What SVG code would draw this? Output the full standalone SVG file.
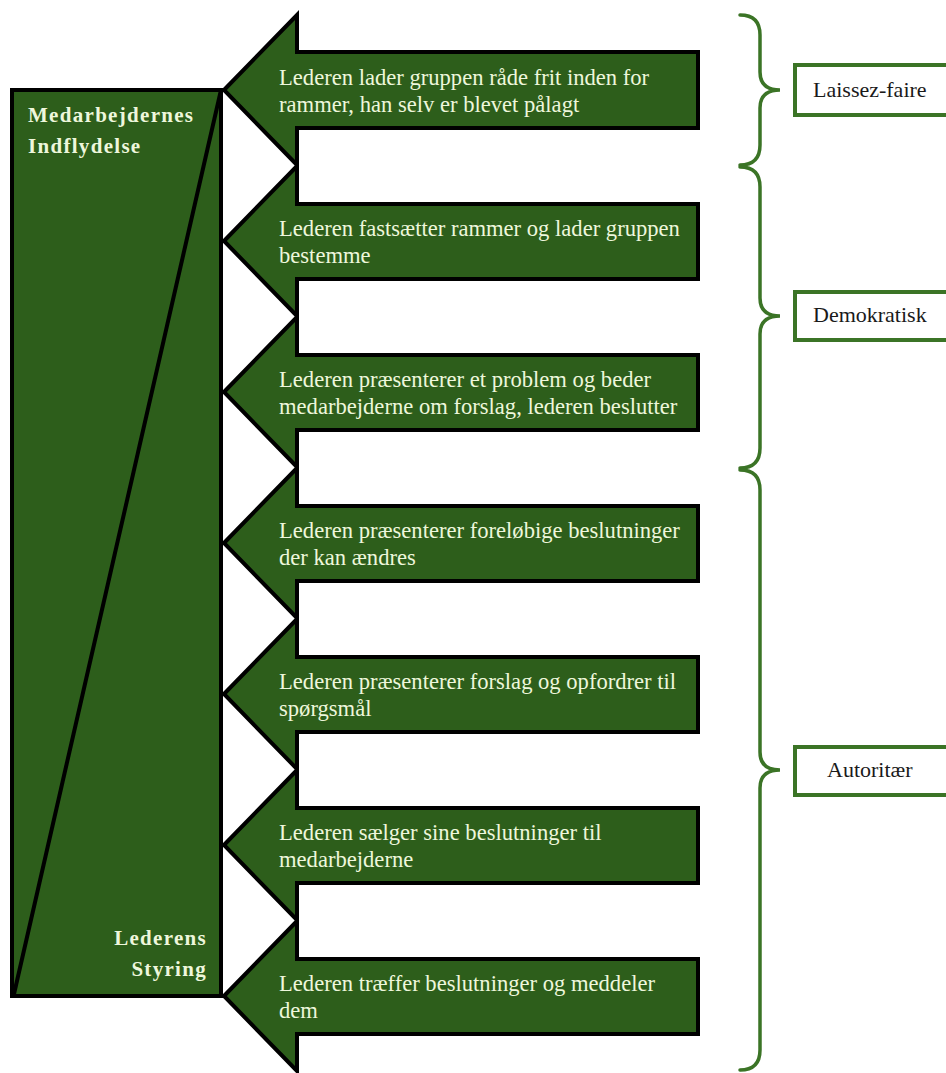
<svg xmlns="http://www.w3.org/2000/svg" width="946" height="1073" viewBox="0 0 946 1073">
<style>
.arrow{fill:#2d5e1b;stroke:#000;stroke-width:4;stroke-linejoin:miter}
.atext{font-family:"Liberation Serif","Times New Roman",serif;font-size:22.6px;fill:#eef7dc}
.side{font-family:"Liberation Serif","Times New Roman",serif;font-size:21px;font-weight:bold;fill:#eef7dc;letter-spacing:1.3px}
.brace{fill:none;stroke:#3b7426;stroke-width:3.5;stroke-linecap:round}
.lbox{fill:#fff;stroke:#3b7426;stroke-width:4}
.ltext{font-family:"Liberation Serif","Times New Roman",serif;font-size:22px;fill:#1a1a1a}
</style>
<rect width="946" height="1073" fill="#fff"/>
<g id="scale">
<rect x="12" y="90" width="209" height="906" fill="#2d5e1b" stroke="#000" stroke-width="4"/>
<line x1="221" y1="90" x2="14" y2="994" stroke="#000" stroke-width="4"/>
<text class="side" x="28" y="122">Medarbejdernes</text>
<text class="side" x="28" y="153">Indflydelse</text>
<text class="side" x="207" y="945" text-anchor="end">Lederens</text>
<text class="side" x="207" y="976" text-anchor="end">Styring</text>
</g>
<g id="arrow1"><path class="arrow" d="M224 90 L297 15 L297 52 L698 52 L698 128 L297 128 L297 165 Z"/><text class="atext" x="279" y="85">Lederen lader gruppen råde frit inden for</text><text class="atext" x="279" y="112">rammer, han selv er blevet pålagt</text></g>
<g id="arrow2"><path class="arrow" d="M224 241 L297 166 L297 204 L698 204 L698 279 L297 279 L297 316 Z"/><text class="atext" x="279" y="236">Lederen fastsætter rammer og lader gruppen</text><text class="atext" x="279" y="263">bestemme</text></g>
<g id="arrow3"><path class="arrow" d="M224 392 L297 317 L297 355 L698 355 L698 430 L297 430 L297 467 Z"/><text class="atext" x="279" y="387">Lederen præsenterer et problem og beder</text><text class="atext" x="279" y="414">medarbejderne om forslag, lederen beslutter</text></g>
<g id="arrow4"><path class="arrow" d="M224 543 L297 468 L297 506 L698 506 L698 581 L297 581 L297 618 Z"/><text class="atext" x="279" y="538">Lederen præsenterer foreløbige beslutninger</text><text class="atext" x="279" y="565">der kan ændres</text></g>
<g id="arrow5"><path class="arrow" d="M224 694 L297 619 L297 657 L698 657 L698 732 L297 732 L297 769 Z"/><text class="atext" x="279" y="689">Lederen præsenterer forslag og opfordrer til</text><text class="atext" x="279" y="716">spørgsmål</text></g>
<g id="arrow6"><path class="arrow" d="M224 845 L297 770 L297 808 L698 808 L698 883 L297 883 L297 920 Z"/><text class="atext" x="279" y="840">Lederen sælger sine beslutninger til</text><text class="atext" x="279" y="867">medarbejderne</text></g>
<g id="arrow7"><path class="arrow" d="M224 996 L297 921 L297 959 L698 959 L698 1034 L297 1034 L297 1071 Z"/><text class="atext" x="279" y="991">Lederen træffer beslutninger og meddeler</text><text class="atext" x="279" y="1018">dem</text></g>
<g id="connectors">
<path class="brace" d="M740 15 Q760 15 760 35 L760 72 Q760 90 780 90 Q760 90 760 108 L760 145 Q760 165 740 165"/>
<path class="brace" d="M740 167 Q760 167 760 187 L760 298 Q760 316 780 316 Q760 316 760 334 L760 448 Q760 468 740 468"/>
<path class="brace" d="M740 470 Q760 470 760 490 L760 752 Q760 770 780 770 Q760 770 760 788 L760 1050 Q760 1070 740 1070"/>
</g>
<g id="laissez"><rect class="lbox" x="795" y="65" width="160" height="50"/><text class="ltext" x="813" y="97">Laissez-faire</text></g>
<g id="demokratisk"><rect class="lbox" x="795" y="292" width="160" height="48"/><text class="ltext" x="813" y="322">Demokratisk</text></g>
<g id="autoritaer"><rect class="lbox" x="795" y="747" width="160" height="48"/><text class="ltext" x="827" y="777">Autoritær</text></g>
</svg>
